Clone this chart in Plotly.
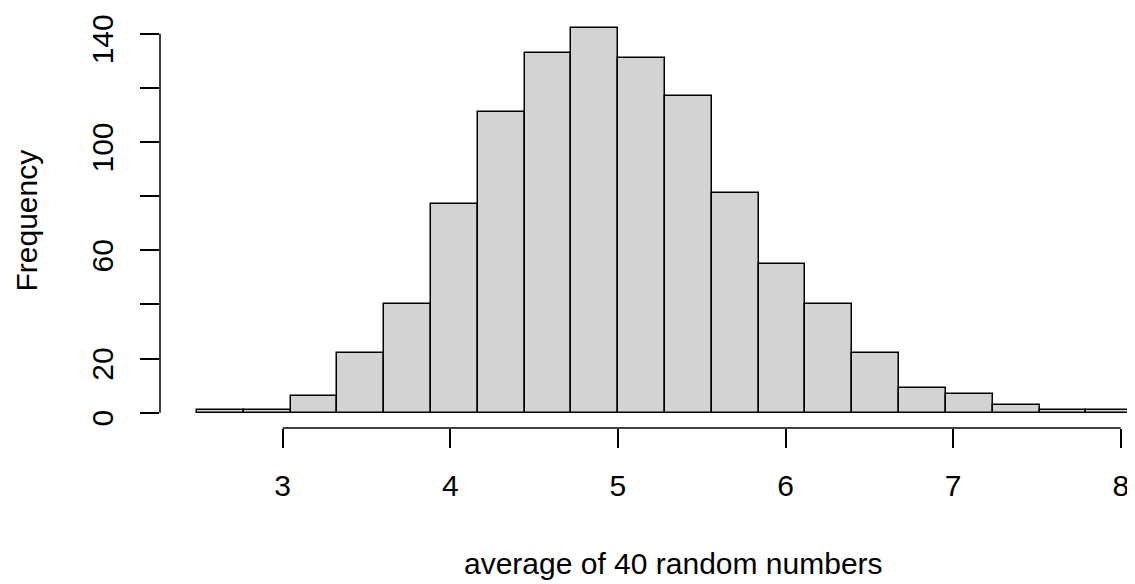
import plotly.graph_objects as go

# Histogram data
bin_start = 2.488
bin_width = 0.2793
counts = [1, 1, 6, 22, 40, 77, 111, 133, 142, 131, 117, 81, 55, 40, 22, 9, 7, 3, 1, 1]
x_ticks = [3, 4, 5, 6, 7, 8]
y_ticks = [0, 20, 40, 60, 80, 100, 120, 140]
y_tick_text = ["0", "20", "", "60", "", "100", "", "140"]
x_title = "average of 40 random numbers"
y_title = "Frequency"

centers = [bin_start + bin_width * (i + 0.5) for i in range(len(counts))]

FONT = "Liberation Sans, Arial, Helvetica, sans-serif"
FS = 30

fig = go.Figure()
fig.add_trace(go.Bar(
    x=centers, y=counts, width=[bin_width] * len(counts),
    marker=dict(color="#D3D3D3", line=dict(color="black", width=1.5)),
    hoverinfo="x+y",
))

# The page body adds an 8px margin, so the figure is 8px smaller on each axis
fig.update_layout(
    width=1127, height=576,
    margin=dict(l=152, r=0, t=5, b=156),
    plot_bgcolor="white", paper_bgcolor="white",
    showlegend=False,
    font=dict(family=FONT, size=FS, color="black"),
    bargap=0,
)
fig.update_xaxes(
    range=[2.268, 8.085], showgrid=False, zeroline=False, showline=False,
    tickvals=x_ticks, ticks="outside", ticklen=19, tickwidth=1.5, tickcolor="black",
    tickfont=dict(family=FONT, size=FS, color="black"),
    automargin=False, ticklabelstandoff=12, ticklabeloverflow="allow",
)
fig.update_yaxes(
    range=[-5.68, 147.68], showgrid=False, zeroline=False, showline=False,
    tickvals=y_ticks, ticktext=y_tick_text, ticks="outside", ticklen=19,
    tickwidth=1.5, tickcolor="black", tickangle=-90,
    tickfont=dict(family=FONT, size=FS, color="black"),
    automargin=False, ticklabelstandoff=15, ticklabelshift=10, ticklabeloverflow="allow",
)
# Axis lines spanning only the tick range, as in R
fig.add_shape(type="line", xref="x", yref="paper", x0=min(x_ticks), x1=max(x_ticks), y0=0, y1=0,
              line=dict(color="black", width=1.5))
fig.add_shape(type="line", xref="paper", yref="y", x0=0, x1=0, y0=min(y_ticks), y1=max(y_ticks),
              line=dict(color="black", width=1.5))

fig.add_annotation(text=x_title, xref="paper", yref="paper", x=0.5, y=0, xshift=26, yshift=-135,
                   showarrow=False, xanchor="center", yanchor="middle",
                   font=dict(family=FONT, size=FS, color="black"))
fig.add_annotation(text=y_title, xref="paper", yref="paper", x=0, y=0.5, xshift=-134,
                   showarrow=False, textangle=-90, xanchor="center", yanchor="middle",
                   font=dict(family=FONT, size=FS, color="black"))

fig.write_html("out.html")
